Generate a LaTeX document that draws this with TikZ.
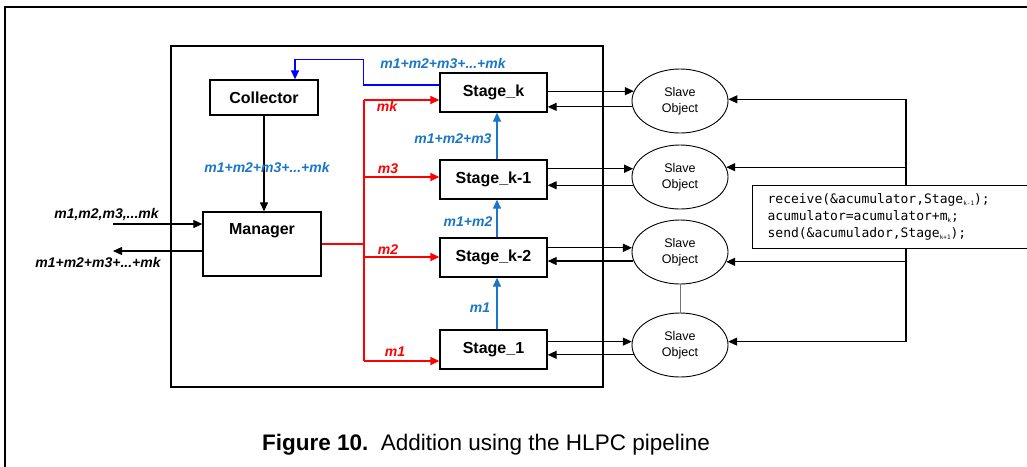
\documentclass[tikz,border=0pt]{standalone}
\usepackage{fontspec}
\setmainfont{Liberation Sans}
\newfontfamily\monofnt{DejaVu Sans Mono}
\usetikzlibrary{arrows.meta,calc,shapes.geometric}
\definecolor{lblue}{RGB}{25,118,200}
\definecolor{dblue}{RGB}{0,0,255}
\definecolor{rred}{RGB}{255,0,0}
\newcommand\sbs[1]{\raisebox{-1.5pt}{\fontsize{6}{6}\selectfont #1}}
\begin{document}
\begin{tikzpicture}[x=1pt,y=-1pt,
  box/.style={draw,line width=1.3pt,minimum width=107pt,minimum height=39pt,inner sep=0pt,font=\fontsize{16}{18}\selectfont\bfseries},
  slave/.style={draw,ellipse,line width=0.9pt,minimum width=96pt,minimum height=64pt,inner sep=0pt,align=center,font=\fontsize{12.5}{16}\selectfont},
  arr/.style={line width=1.2pt,-{Triangle[length=9pt,width=8pt]}},
  plain/.style={line width=1.2pt},
  redl/.style={line width=1.3pt,draw=rred},
  redarr/.style={redl,-{Triangle[length=9pt,width=8pt]}},
  barr/.style={line width=1.3pt,draw=lblue,-{Triangle[length=9pt,width=8pt]}},
  darr/.style={line width=1.3pt,draw=dblue,-{Triangle[length=9pt,width=8pt]}},
  lab/.style={font=\fontsize{14}{16}\selectfont\bfseries\itshape,inner sep=0pt},
]
\useasboundingbox (0,0) rectangle (1027,466);
% outer frame
\draw[line width=2.5pt] (5,475) -- (5,7) -- (1035,7);
% inner frame
\draw[line width=1.3pt] (171,46) rectangle (603,387);

% nodes
\node[box,minimum width=108pt,minimum height=35pt] (col) at (264,97.5) {Collector};
\node[box,minimum width=118pt,minimum height=64pt] (mgr) at (262,244) {};
\node[font=\fontsize{16}{18}\selectfont\bfseries,inner sep=0pt] (mgrt) at (262,231) {Manager};

\node[box] (stk) at (493.5,92.5) {Stage\_k};
\node[box] (stk1) at (493.5,179.5) {Stage\_k-1};
\node[box] (stk2) at (493.5,257.5) {Stage\_k-2};
\node[box] (st1) at (493.5,349.5) {Stage\_1};

\node[slave] (e1) at (680,101) {Slave\\Object};
\node[slave] (e2) at (680,177) {Slave\\Object};
\node[slave] (e3) at (680,252) {Slave\\Object};
\node[slave] (e4) at (680,345) {Slave\\Object};
\draw[line width=0.9pt,draw=black!55] (e3.south) -- (e4.north);

% stage <-> slave
\draw[arr] (e1.168 -| stk.east) -- (e1.168);
\draw[arr] (e1.187 -| stk.east) ++(0,0) (e1.187) -- (e1.187 -| stk.east);
\draw[arr] (e2.170 -| stk1.east) -- (e2.170);
\draw[arr] (e2.190) -- (e2.190 -| stk1.east);
\draw[arr] (e3.175 -| stk2.east) -- (e3.175);
\draw[arr] (e3.191) -- (e3.191 -| stk2.east);
\draw[arr] (e4.176 -| st1.east) -- (e4.176);
\draw[arr] (e4.192) -- (e4.192 -| st1.east);

% right bus
\coordinate (bus) at (906,0);
\draw[plain] (bus |- e1.2) -- (bus |- e4.4);
\draw[arr] (bus |- e1.2) -- (e1.2);
\draw[arr] (bus |- e2.12) -- (e2.12);
\draw[arr] (bus |- e3.348) -- (e3.348);
\draw[arr] (bus |- e4.4) -- (e4.4);

% code box
\node[draw,fill=white,line width=1.2pt,anchor=north west,text width=262pt,inner xsep=15pt,inner ysep=0pt,minimum height=63pt,align=left,font=\monofnt\fontsize{13}{17}\selectfont] (code) at (752,185)
 {receive(\&acumulator,Stage\sbs{k-1});\\acumulator=acumulator+m\sbs{k};\\send(\&acumulador,Stage\sbs{k+1});};

% collector -> manager
\draw[arr] (col.south) -- (col.south |- mgr.north);

% left in/out
\coordinate (inL) at (113,224);
\coordinate (outL) at (113,251);
\draw[arr] (inL) -- (inL -| mgr.west);
\draw[arr] (outL -| mgr.west) -- (outL);
\node[lab] at (106.5,214.5) {m1,m2,m3,...mk};
\node[lab] at (98,262.5) {m1+m2+m3+...+mk};

% red distribution
\coordinate (rb) at (364,0);
\coordinate (rk) at ($(stk.west)+(0,7.5)$);
\coordinate (r3) at ($(stk1.west)+(0,-2.5)$);
\coordinate (r2) at ($(stk2.west)+(0,-0.5)$);
\coordinate (r1) at ($(st1.west)+(0,11.5)$);
\draw[redl] (mgr.east) -- (rb |- mgr.east);
\draw[redl] (rb |- rk) -- (rb |- r1);
\draw[redarr] (rb |- rk) -- (rk);
\draw[redarr] (rb |- r3) -- (r3);
\draw[redarr] (rb |- r2) -- (r2);
\draw[redarr] (rb |- r1) -- (r1);
\node[lab,text=rred] at (387,106) {mk};
\node[lab,text=rred] at (388,169) {m3};
\node[lab,text=rred] at (388,249.5) {m2};
\node[lab,text=rred] at (395,351.5) {m1};

% blue pipeline
\draw[barr] ($(st1.north)+(3.5,0)$) -- ($(stk2.south)+(3.5,0)$);
\draw[barr] ($(stk2.north)+(3.5,0)$) -- ($(stk1.south)+(3.5,0)$);
\draw[barr] ($(stk1.north)+(3.5,0)$) -- ($(stk.south)+(3.5,0)$);
\node[lab,text=lblue] at (480,307.5) {m1};
\node[lab,text=lblue] at (468,221.5) {m1+m2};
\node[lab,text=lblue] at (453,138.5) {m1+m2+m3};

% result back to collector
\draw[darr] ($(stk.west)+(0,-7.5)$) -- ++(-76,0) |- ($(col.north)+(31,-20)$) -- ($(col.north)+(31,0)$);
\node[lab,text=lblue] at (443,63) {m1+m2+m3+...+mk};
\node[lab,text=lblue] at (267,167) {m1+m2+m3+...+mk};

% caption
\node[anchor=base,inner sep=0pt,font=\fontsize{22.5}{26}\selectfont] (cap) at (486,450) {\textbf{Figure 10.}\ \ Addition using the HLPC pipeline};
\end{tikzpicture}
\end{document}
